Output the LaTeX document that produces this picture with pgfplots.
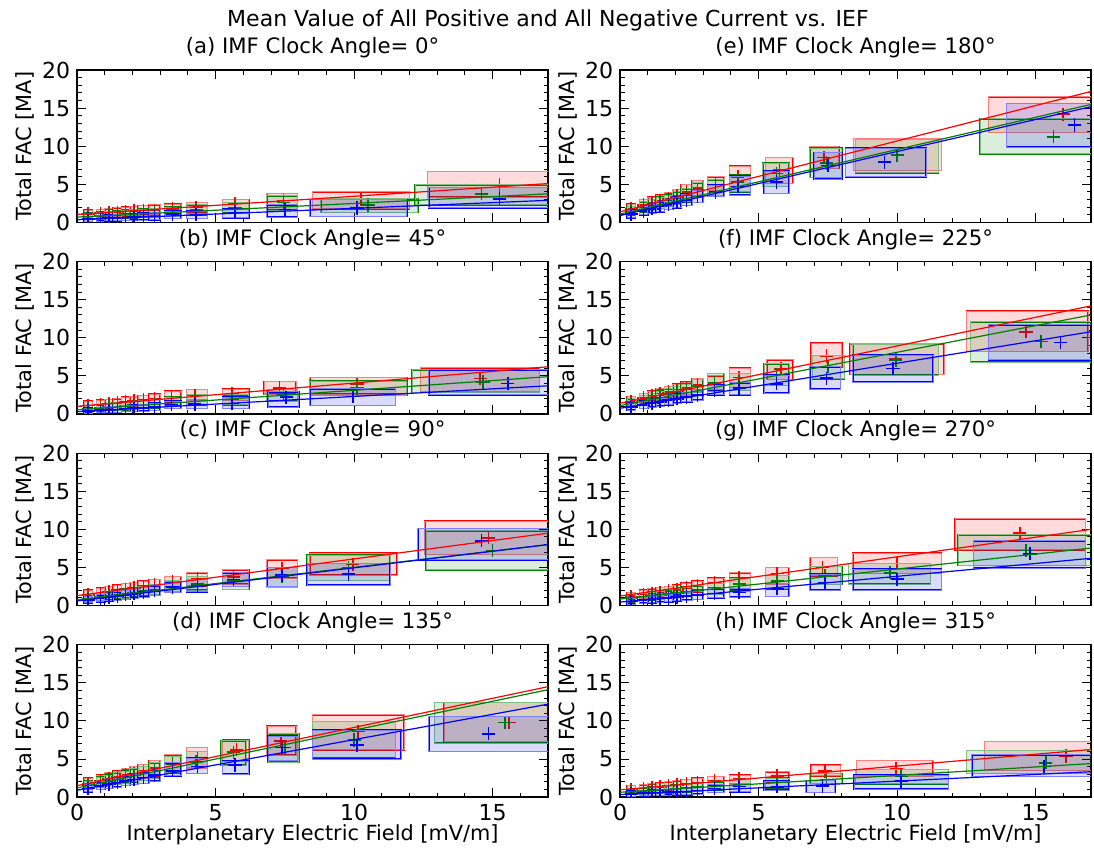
\documentclass[border=0pt]{standalone}
\usepackage{fontspec}
\setmainfont{DejaVu Sans}
\usepackage{pgfplots}
\usepackage{pgfplotstable}
\pgfplotsset{compat=1.18}
\usepgfplotslibrary{groupplots}
\definecolor{mred}{rgb}{1,0,0}
\definecolor{mgreen}{rgb}{0,0.5,0}
\definecolor{mblue}{rgb}{0,0,1}

% ---------- (a) 0 deg ----------
\pgfplotstableread{
x y xl xh yl yh
0.4 1.1 0.25 0.55 0.6 1.6
0.85 1.2 0.7 1.0 0.7 1.7
1.15 1.3 1.0 1.3 0.75 1.8
1.45 1.35 1.3 1.6 0.8 1.9
1.75 1.45 1.6 1.9 0.85 2.0
2.05 1.5 1.9 2.2 0.9 2.1
2.4 1.55 2.2 2.6 0.95 2.2
2.8 1.6 2.6 3.0 1.0 2.3
3.45 1.75 3.15 3.75 1.1 2.4
4.3 1.95 3.95 4.7 1.2 2.6
5.7 2.5 5.25 6.2 1.7 3.0
7.45 2.9 6.85 7.95 1.7 3.8
10.25 3.0 8.5 12.0 1.8 4.0
15.25 4.9 12.65 17.5 3.3 6.7
}\aR
\pgfplotstableread{
x y xl xh yl yh
0.4 0.8 0.25 0.55 0.4 1.2
0.85 0.9 0.7 1.0 0.45 1.35
1.15 1.0 1.0 1.3 0.5 1.45
1.45 1.05 1.3 1.6 0.55 1.5
1.75 1.1 1.6 1.9 0.6 1.6
2.05 1.15 1.9 2.2 0.6 1.65
2.4 1.2 2.2 2.6 0.65 1.75
2.8 1.3 2.6 3.0 0.7 1.85
3.45 1.45 3.15 3.75 0.8 2.0
4.3 1.7 3.95 4.7 1.0 2.3
5.7 1.95 5.25 6.2 1.2 2.6
7.45 2.6 6.85 7.95 1.6 3.5
10.5 2.3 8.8 12.3 1.3 3.1
14.6 3.75 12.2 17.5 2.3 4.95
}\aG
\pgfplotstableread{
x y xl xh yl yh
0.4 0.45 0.25 0.55 0.1 0.8
0.85 0.5 0.7 1.0 0.15 0.9
1.15 0.55 1.0 1.3 0.2 0.95
1.45 0.6 1.3 1.6 0.2 1.0
1.75 0.65 1.6 1.9 0.25 1.05
2.05 0.7 1.9 2.2 0.3 1.1
2.4 0.75 2.2 2.6 0.3 1.2
2.8 0.8 2.6 3.0 0.35 1.3
3.45 1.1 3.15 3.75 0.5 1.5
4.3 1.0 3.95 4.7 0.5 1.5
5.7 1.3 5.25 6.2 0.6 1.75
7.5 1.7 6.85 7.95 0.7 2.3
10.1 1.9 8.4 11.9 0.8 3.0
15.25 3.1 12.7 17.5 1.9 4.6
}\aB
% ---------- (b) 45 deg ----------
\pgfplotstableread{
x y xl xh yl yh
0.4 1.1 0.25 0.55 0.6 1.7
0.85 1.25 0.7 1.0 0.7 1.8
1.15 1.35 1.0 1.3 0.8 1.9
1.45 1.5 1.3 1.6 0.9 2.0
1.75 1.6 1.6 1.9 1.0 2.2
2.05 1.7 1.9 2.2 1.05 2.3
2.4 1.85 2.2 2.6 1.15 2.45
2.8 2.0 2.6 3.0 1.3 2.6
3.4 2.3 3.15 3.75 1.6 3.0
4.25 2.45 3.95 4.7 1.75 3.2
5.6 2.65 5.25 6.2 1.75 3.25
7.3 3.4 6.75 7.9 2.6 4.25
10.1 3.9 8.4 11.9 2.6 4.8
14.55 4.65 12.4 16.7 2.9 6.05
}\bR
\pgfplotstableread{
x y xl xh yl yh
0.4 0.7 0.25 0.55 0.35 1.1
0.85 0.8 0.7 1.0 0.4 1.2
1.15 0.9 1.0 1.3 0.45 1.3
1.45 1.0 1.3 1.6 0.5 1.45
1.75 1.05 1.6 1.9 0.55 1.55
2.05 1.15 1.9 2.2 0.6 1.65
2.4 1.25 2.2 2.6 0.7 1.75
2.8 1.35 2.6 3.0 0.8 1.9
3.4 1.65 3.15 3.75 1.05 2.2
4.25 1.9 3.95 4.7 1.2 2.5
5.6 1.9 5.25 6.2 1.2 2.5
7.45 2.6 6.85 7.95 1.7 3.2
10.1 3.4 8.4 11.9 2.4 4.3
14.65 4.2 12.1 16.7 2.8 5.8
}\bG
\pgfplotstableread{
x y xl xh yl yh
0.4 0.4 0.25 0.55 0.1 0.75
0.85 0.5 0.7 1.0 0.15 0.85
1.15 0.55 1.0 1.3 0.2 0.95
1.45 0.6 1.3 1.6 0.2 1.0
1.75 0.7 1.6 1.9 0.3 1.1
2.05 0.75 1.9 2.2 0.3 1.15
2.4 0.8 2.2 2.6 0.35 1.25
2.8 0.95 2.6 3.0 0.45 1.4
3.4 1.25 3.15 3.75 0.7 1.7
4.25 1.3 3.95 4.7 0.7 1.9
5.6 1.35 5.25 6.2 0.7 2.2
7.55 2.2 6.9 8.0 0.9 2.9
9.95 2.3 8.4 11.5 1.1 3.3
15.55 4.0 12.7 17.5 2.5 5.8
}\bB
% ---------- (c) 90 deg ----------
\pgfplotstableread{
x y xl xh yl yh
0.4 1.4 0.25 0.55 0.8 2.0
0.85 1.6 0.7 1.0 1.0 2.3
1.15 1.8 1.0 1.3 1.15 2.5
1.45 2.0 1.3 1.6 1.3 2.7
1.75 2.15 1.6 1.9 1.45 2.9
2.05 2.3 1.9 2.2 1.6 3.0
2.4 2.5 2.2 2.6 1.75 3.2
2.8 2.7 2.6 3.0 1.9 3.4
3.45 3.2 3.15 3.75 2.4 3.8
4.35 3.5 3.95 4.7 2.6 4.3
5.65 3.75 5.25 6.2 2.8 4.7
7.4 4.9 6.85 7.95 3.6 6.0
9.95 5.4 8.4 11.55 4.0 6.9
14.85 8.9 12.55 17.5 6.7 11.1
}\cR
\pgfplotstableread{
x y xl xh yl yh
0.4 0.9 0.25 0.55 0.5 1.4
0.85 1.1 0.7 1.0 0.6 1.6
1.15 1.25 1.0 1.3 0.7 1.8
1.45 1.4 1.3 1.6 0.85 2.0
1.75 1.55 1.6 1.9 0.95 2.15
2.05 1.7 1.9 2.2 1.1 2.3
2.4 1.9 2.2 2.6 1.25 2.55
2.8 2.1 2.6 3.0 1.4 2.75
3.45 2.5 3.15 3.75 1.8 3.3
4.35 2.8 3.95 4.7 2.0 3.8
5.65 3.25 5.25 6.2 2.1 4.3
7.4 3.8 6.85 7.95 2.4 5.0
9.8 5.0 8.3 11.3 3.3 6.6
15.0 7.2 12.6 17.5 4.7 9.8
}\cG
\pgfplotstableread{
x y xl xh yl yh
0.4 0.75 0.25 0.55 0.35 1.2
0.85 0.95 0.7 1.0 0.5 1.4
1.15 1.1 1.0 1.3 0.6 1.6
1.45 1.25 1.3 1.6 0.7 1.8
1.75 1.4 1.6 1.9 0.8 1.95
2.05 1.55 1.9 2.2 0.95 2.1
2.4 1.75 2.2 2.6 1.1 2.35
2.8 1.95 2.6 3.0 1.3 2.6
3.45 2.4 3.15 3.75 1.7 3.1
4.35 2.6 3.95 4.7 1.8 3.4
5.65 3.4 5.25 6.2 2.5 4.3
7.4 4.0 6.85 7.95 2.5 5.0
9.8 4.1 8.3 11.3 2.7 5.5
14.6 8.5 12.3 17.5 6.0 10.1
}\cB
% ---------- (d) 135 deg ----------
\pgfplotstableread{
x y xl xh yl yh
0.4 1.8 0.25 0.55 1.2 2.5
0.85 2.2 0.7 1.0 1.5 2.9
1.15 2.4 1.0 1.3 1.7 3.2
1.45 2.65 1.3 1.6 1.9 3.4
1.75 2.9 1.6 1.9 2.1 3.7
2.05 3.1 1.9 2.2 2.3 4.0
2.4 3.4 2.2 2.6 2.5 4.3
2.8 3.8 2.6 3.0 2.8 4.8
3.45 4.5 3.15 3.75 3.4 5.6
4.35 5.2 3.95 4.7 3.8 6.5
5.75 6.2 5.25 6.2 4.7 7.5
7.35 7.4 6.85 7.9 5.5 9.3
10.15 8.6 8.5 11.8 6.2 10.8
15.6 9.8 13.25 17.5 7.3 12.4
}\dR
\pgfplotstableread{
x y xl xh yl yh
0.4 1.5 0.25 0.55 1.0 2.1
0.85 1.9 0.7 1.0 1.3 2.6
1.15 2.15 1.0 1.3 1.5 2.9
1.45 2.4 1.3 1.6 1.7 3.2
1.75 2.6 1.6 1.9 1.85 3.4
2.05 2.85 1.9 2.2 2.0 3.7
2.4 3.1 2.2 2.6 2.2 4.0
2.8 3.5 2.6 3.0 2.5 4.5
3.45 4.3 3.15 3.75 3.2 5.4
4.3 4.6 3.95 4.7 3.9 6.0
5.65 5.9 5.2 6.1 4.2 7.4
7.5 6.5 6.9 8.0 4.6 8.3
10.0 7.5 8.5 11.5 5.1 9.9
15.45 9.8 12.9 17.5 7.1 12.4
}\dG
\pgfplotstableread{
x y xl xh yl yh
0.4 1.1 0.25 0.55 0.7 1.6
0.85 1.45 0.7 1.0 1.0 2.0
1.15 1.7 1.0 1.3 1.15 2.3
1.45 1.9 1.3 1.6 1.3 2.5
1.75 2.1 1.6 1.9 1.5 2.8
2.05 2.3 1.9 2.2 1.65 3.0
2.4 2.55 2.2 2.6 1.8 3.3
2.8 2.9 2.6 3.0 2.1 3.6
3.45 3.45 3.15 3.75 2.8 4.5
4.35 4.0 3.95 4.7 3.1 5.1
5.7 4.2 5.25 6.2 3.0 4.7
7.4 6.5 6.9 7.95 4.8 8.0
10.1 6.8 8.5 11.7 5.0 8.8
14.85 8.3 12.7 17.5 6.0 10.6
}\dB
% ---------- (e) 180 deg ----------
\pgfplotstableread{
x y xl xh yl yh
0.4 1.8 0.25 0.55 1.2 2.4
0.85 2.3 0.7 1.0 1.6 3.0
1.15 2.6 1.0 1.3 1.9 3.3
1.45 2.9 1.3 1.6 2.1 3.6
1.75 3.1 1.6 1.9 2.3 3.9
2.05 3.5 1.9 2.2 2.6 4.3
2.4 4.0 2.2 2.6 3.0 5.0
2.8 4.5 2.6 3.0 3.5 5.5
3.45 5.0 3.15 3.75 4.2 6.0
4.25 6.0 3.95 4.7 4.7 7.4
5.75 6.95 5.25 6.25 5.1 8.5
7.35 8.5 6.85 7.9 7.1 9.95
10.0 8.9 8.43 11.6 6.8 11.0
16.0 14.2 13.3 17.5 11.8 16.5
}\eR
\pgfplotstableread{
x y xl xh yl yh
0.4 1.5 0.25 0.55 1.0 2.1
0.85 2.0 0.7 1.0 1.4 2.7
1.15 2.3 1.0 1.3 1.6 3.0
1.45 2.6 1.3 1.6 1.85 3.3
1.75 2.9 1.6 1.9 2.1 3.6
2.05 3.2 1.9 2.2 2.4 4.0
2.4 3.6 2.2 2.6 2.7 4.4
2.8 4.3 2.6 3.0 3.3 5.2
3.45 5.0 3.15 3.75 3.5 5.6
4.25 5.3 3.95 4.7 4.0 6.2
5.65 6.4 5.15 6.1 4.7 7.8
7.45 7.8 6.85 8.0 5.9 9.75
10.0 8.85 8.5 11.5 6.5 10.9
15.65 11.25 13.0 17.5 9.0 13.6
}\eG
\pgfplotstableread{
x y xl xh yl yh
0.4 1.1 0.25 0.55 0.6 1.6
0.85 1.5 0.7 1.0 1.0 2.1
1.15 1.8 1.0 1.3 1.2 2.4
1.45 2.1 1.3 1.6 1.4 2.7
1.75 2.4 1.6 1.9 1.7 3.0
2.05 2.6 1.9 2.2 1.9 3.3
2.4 2.9 2.2 2.6 2.2 3.7
2.8 3.4 2.6 3.0 2.6 4.2
3.45 4.0 3.15 3.75 3.4 4.9
4.25 4.7 3.95 4.7 3.6 6.1
5.65 5.3 5.2 6.1 3.8 6.75
7.5 7.45 7.0 8.0 5.7 9.2
9.55 7.9 8.13 11.05 6.0 9.75
16.4 12.8 13.95 17.5 9.9 15.6
}\eB
% ---------- (f) 225 deg ----------
\pgfplotstableread{
x y xl xh yl yh
0.4 1.6 0.25 0.55 1.1 2.3
0.85 2.1 0.7 1.0 1.5 2.7
1.15 2.4 1.0 1.3 1.7 3.0
1.45 2.7 1.3 1.6 1.9 3.3
1.75 2.9 1.6 1.9 2.1 3.6
2.05 3.2 1.9 2.2 2.3 3.9
2.4 3.4 2.2 2.6 2.5 4.2
2.8 3.8 2.6 3.0 2.9 4.6
3.4 4.1 3.15 3.75 3.2 5.0
4.3 4.8 3.95 4.7 3.5 6.0
5.8 5.9 5.3 6.25 4.5 7.1
7.45 7.6 6.9 8.0 6.2 9.3
9.95 7.3 8.3 11.7 5.2 9.2
14.65 10.8 12.5 16.9 8.2 13.5
}\fR
\pgfplotstableread{
x y xl xh yl yh
0.4 1.4 0.25 0.55 0.9 2.0
0.85 1.8 0.7 1.0 1.3 2.4
1.15 2.1 1.0 1.3 1.5 2.7
1.45 2.4 1.3 1.6 1.7 3.0
1.75 2.6 1.6 1.9 1.9 3.3
2.05 2.9 1.9 2.2 2.1 3.6
2.4 3.2 2.2 2.6 2.4 3.9
2.8 3.7 2.6 3.0 2.8 4.5
3.4 4.1 3.15 3.75 3.0 5.3
4.3 4.1 3.95 4.7 3.1 5.3
5.65 5.2 5.2 6.1 3.75 6.6
7.5 6.2 6.95 8.1 4.6 7.7
9.95 7.1 8.4 11.5 5.1 9.1
15.2 9.5 12.65 17.5 6.8 12.1
}\fG
\pgfplotstableread{
x y xl xh yl yh
0.4 0.9 0.25 0.55 0.5 1.4
0.85 1.15 0.7 1.0 0.7 1.7
1.15 1.4 1.0 1.3 0.9 1.9
1.45 1.6 1.3 1.6 1.05 2.1
1.75 1.8 1.6 1.9 1.2 2.4
2.05 2.0 1.9 2.2 1.4 2.6
2.4 2.2 2.2 2.6 1.6 2.8
2.8 2.5 2.6 3.0 1.8 3.2
3.4 3.1 3.15 3.75 2.5 3.8
4.3 3.4 3.95 4.7 2.5 4.1
5.65 3.95 5.2 6.1 2.75 5.1
7.45 4.7 6.85 7.95 3.25 6.2
9.85 5.95 8.4 11.3 4.2 7.75
15.9 9.4 13.3 17.5 7.1 11.7
}\fB
% ---------- (g) 270 deg ----------
\pgfplotstableread{
x y xl xh yl yh
0.4 1.2 0.25 0.55 0.7 1.7
0.85 1.45 0.7 1.0 0.9 2.0
1.15 1.6 1.0 1.3 1.0 2.2
1.45 1.75 1.3 1.6 1.15 2.35
1.75 1.9 1.6 1.9 1.3 2.5
2.05 2.05 1.9 2.2 1.4 2.7
2.4 2.3 2.2 2.6 1.6 2.95
2.8 2.6 2.6 3.0 1.8 3.2
3.4 3.0 3.15 3.75 2.2 3.6
4.3 3.7 3.95 4.7 2.2 4.3
5.67 4.2 5.25 6.1 2.8 5.0
7.3 5.0 6.85 7.85 3.9 6.3
10.0 5.5 8.4 11.6 4.2 6.9
14.43 9.5 12.1 16.8 7.3 11.4
}\gR
\pgfplotstableread{
x y xl xh yl yh
0.4 0.95 0.25 0.55 0.5 1.4
0.85 1.1 0.7 1.0 0.65 1.6
1.15 1.25 1.0 1.3 0.75 1.75
1.45 1.4 1.3 1.6 0.85 1.9
1.75 1.5 1.6 1.9 0.95 2.05
2.05 1.65 1.9 2.2 1.05 2.2
2.4 1.8 2.2 2.6 1.2 2.4
2.8 2.0 2.6 3.0 1.35 2.6
3.4 2.3 3.15 3.75 1.5 2.9
4.3 2.8 3.95 4.7 1.9 3.6
5.67 3.2 5.25 6.1 2.2 3.95
7.4 3.9 6.85 8.0 2.75 5.1
9.75 4.3 8.24 11.2 2.8 5.5
14.65 7.2 12.2 17.5 5.25 9.3
}\gG
\pgfplotstableread{
x y xl xh yl yh
0.4 0.55 0.25 0.55 0.2 0.9
0.85 0.7 0.7 1.0 0.3 1.1
1.15 0.8 1.0 1.3 0.35 1.2
1.45 0.9 1.3 1.6 0.45 1.35
1.75 1.0 1.6 1.9 0.5 1.45
2.05 1.1 1.9 2.2 0.6 1.55
2.4 1.25 2.2 2.6 0.7 1.7
2.8 1.35 2.6 3.0 0.8 1.9
3.4 1.6 3.15 3.75 1.0 2.2
4.3 1.7 3.95 4.7 1.1 2.2
5.67 2.2 5.25 6.1 1.2 2.9
7.4 3.0 6.85 7.95 2.0 4.1
10.0 3.45 8.4 11.6 2.0 4.8
14.8 6.8 12.76 16.8 4.9 8.5
}\gB
% ---------- (h) 315 deg ----------
\pgfplotstableread{
x y xl xh yl yh
0.4 1.0 0.25 0.55 0.6 1.5
0.85 1.15 0.7 1.0 0.7 1.6
1.15 1.25 1.0 1.3 0.8 1.75
1.45 1.35 1.3 1.6 0.85 1.85
1.75 1.45 1.6 1.9 0.95 2.0
2.05 1.6 1.9 2.2 1.05 2.15
2.4 1.75 2.2 2.6 1.15 2.3
2.8 1.9 2.6 3.0 1.3 2.5
3.4 2.1 3.15 3.75 1.5 2.7
4.3 2.4 3.95 4.7 1.7 2.9
5.67 2.8 5.25 6.1 2.0 3.3
7.4 3.4 6.9 7.95 2.8 4.2
9.97 3.7 8.53 11.3 2.7 4.8
16.1 5.4 13.15 17.5 3.5 7.3
}\hR
\pgfplotstableread{
x y xl xh yl yh
0.4 0.7 0.25 0.55 0.35 1.1
0.85 0.8 0.7 1.0 0.4 1.2
1.15 0.85 1.0 1.3 0.45 1.3
1.45 0.95 1.3 1.6 0.5 1.4
1.75 1.0 1.6 1.9 0.55 1.45
2.05 1.1 1.9 2.2 0.6 1.55
2.4 1.2 2.2 2.6 0.7 1.65
2.8 1.3 2.6 3.0 0.8 1.8
3.4 1.5 3.15 3.75 0.95 2.0
4.3 1.75 3.95 4.7 1.1 2.3
5.67 1.9 5.25 6.1 1.2 2.5
7.45 2.3 6.85 8.0 1.8 3.1
10.15 2.8 8.5 11.85 1.75 3.6
15.37 4.5 12.5 17.5 3.1 6.1
}\hG
\pgfplotstableread{
x y xl xh yl yh
0.4 0.4 0.25 0.55 0.1 0.8
0.85 0.5 0.7 1.0 0.15 0.85
1.15 0.55 1.0 1.3 0.2 0.9
1.45 0.6 1.3 1.6 0.2 0.95
1.75 0.65 1.6 1.9 0.25 1.0
2.05 0.7 1.9 2.2 0.3 1.1
2.4 0.75 2.2 2.6 0.3 1.15
2.8 0.85 2.6 3.0 0.4 1.25
3.4 1.1 3.15 3.75 0.6 1.6
4.3 1.4 3.95 4.7 0.7 1.8
5.67 1.35 5.2 6.1 0.9 2.1
7.3 1.45 6.7 7.75 0.6 2.2
10.15 2.1 8.45 11.85 1.05 2.9
15.3 4.0 12.7 17.5 2.7 5.55
}\hB

\pgfplotsset{
  fbox/.style={
    scatter, only marks, mark=+, mark size=3.3pt, color=#1, line width=0.8pt,
    visualization depends on={\thisrow{xl}-\thisrow{x} \as \dxl},
    visualization depends on={\thisrow{xh}-\thisrow{x} \as \dxh},
    visualization depends on={\thisrow{yl}-\thisrow{y} \as \dyl},
    visualization depends on={\thisrow{yh}-\thisrow{y} \as \dyh},
    scatter/@pre marker code/.code={%
      \fill[#1, fill opacity=0.14] (axis direction cs:\dxl,\dyl) rectangle (axis direction cs:\dxh,\dyh);
      \draw[#1!50, line width=0.45pt] (axis direction cs:\dxl,\dyl) rectangle (axis direction cs:\dxh,\dyh);
      \scope},
    scatter/@post marker code/.code={\endscope},
  },
  fline/.style={#1, line width=0.6pt, no markers},
}
\newcommand{\fsz}{\fontsize{10.6}{12}\selectfont}
\newcommand{\tsz}{\fontsize{11}{12}\selectfont}
\newcommand{\lsz}{\fontsize{10.4}{12}\selectfont}

\begin{document}
\begin{tikzpicture}
\begin{groupplot}[
  group style={group size=2 by 4, horizontal sep=36pt, vertical sep=19.6pt,
    xticklabels at=edge bottom, group name=G},
  width=235pt, height=76pt, scale only axis,
  xmin=0, xmax=17, ymin=0, ymax=20,
  xtick={0,5,10,15}, ytick={0,5,10,15,20},
  minor xtick={1,2,3,4,6,7,8,9,11,12,13,14,16},
  minor ytick={1,2,3,4,6,7,8,9,11,12,13,14,16,17,18,19},
  tick align=inside, tick pos=both,
  major tick length=4.5pt, minor tick length=2.2pt,
  every tick/.style={black, line width=0.5pt},
  axis line style={line width=0.7pt},
  ylabel={Total FAC [MA]},
  tick label style={font=\tsz},
  label style={font=\lsz},
  xlabel style={yshift=5pt},
  ylabel style={yshift=-3pt},
  title style={font=\fsz, yshift=-3.5pt},
  /pgf/number format/assume math mode=true,
  clip marker paths=true,
]
\nextgroupplot[title={(a) IMF Clock Angle= 0°}]
\addplot[fbox=mred] table {\aR};
\addplot[fbox=mgreen] table {\aG};
\addplot[fbox=mblue] table {\aB};
\addplot[fline=mred] coordinates {(0,1.05) (17,5.1)};
\addplot[fline=mgreen] coordinates {(0,0.7) (17,3.75)};
\addplot[fline=mblue] coordinates {(0,0.35) (17,2.9)};

\nextgroupplot[title={(e) IMF Clock Angle= 180°}]
\addplot[fbox=mred] table {\eR};
\addplot[fbox=mgreen] table {\eG};
\addplot[fbox=mblue] table {\eB};
\addplot[fline=mred] coordinates {(0,1.4) (17,17.2)};
\addplot[fline=mgreen] coordinates {(0,1.1) (17,15.5)};
\addplot[fline=mblue] coordinates {(0,0.9) (17,15.2)};

\nextgroupplot[title={(b) IMF Clock Angle= 45°}]
\addplot[fbox=mred] table {\bR};
\addplot[fbox=mgreen] table {\bG};
\addplot[fbox=mblue] table {\bB};
\addplot[fline=mred] coordinates {(0,1.0) (17,6.2)};
\addplot[fline=mgreen] coordinates {(0,0.55) (17,4.9)};
\addplot[fline=mblue] coordinates {(0,0.3) (17,3.7)};

\nextgroupplot[title={(f) IMF Clock Angle= 225°}]
\addplot[fbox=mred] table {\fR};
\addplot[fbox=mgreen] table {\fG};
\addplot[fbox=mblue] table {\fB};
\addplot[fline=mred] coordinates {(0,1.4) (17,14.2)};
\addplot[fline=mgreen] coordinates {(0,1.1) (17,13.0)};
\addplot[fline=mblue] coordinates {(0,0.75) (17,10.8)};

\nextgroupplot[title={(c) IMF Clock Angle= 90°}]
\addplot[fbox=mred] table {\cR};
\addplot[fbox=mgreen] table {\cG};
\addplot[fbox=mblue] table {\cB};
\addplot[fline=mred] coordinates {(0,1.3) (17,9.5)};
\addplot[fline=mgreen] coordinates {(0,0.75) (17,8.0)};
\addplot[fline=mblue] coordinates {(0,0.6) (17,8.0)};

\nextgroupplot[title={(g) IMF Clock Angle= 270°}]
\addplot[fbox=mred] table {\gR};
\addplot[fbox=mgreen] table {\gG};
\addplot[fbox=mblue] table {\gB};
\addplot[fline=mred] coordinates {(0,1.25) (17,10.0)};
\addplot[fline=mgreen] coordinates {(0,0.85) (17,7.55)};
\addplot[fline=mblue] coordinates {(0,0.45) (17,6.2)};

\nextgroupplot[title={(d) IMF Clock Angle= 135°}, xlabel={Interplanetary Electric Field [mV/m]}]
\addplot[fbox=mred] table {\dR};
\addplot[fbox=mgreen] table {\dG};
\addplot[fbox=mblue] table {\dB};
\addplot[fline=mred] coordinates {(0,1.5) (17,14.5)};
\addplot[fline=mgreen] coordinates {(0,1.2) (17,14.1)};
\addplot[fline=mblue] coordinates {(0,0.9) (17,12.2)};

\nextgroupplot[title={(h) IMF Clock Angle= 315°}, xlabel={Interplanetary Electric Field [mV/m]}]
\addplot[fbox=mred] table {\hR};
\addplot[fbox=mgreen] table {\hG};
\addplot[fbox=mblue] table {\hB};
\addplot[fline=mred] coordinates {(0,0.95) (17,6.25)};
\addplot[fline=mgreen] coordinates {(0,0.63) (17,4.4)};
\addplot[fline=mblue] coordinates {(0,0.33) (17,3.33)};
\end{groupplot}
\node[font=\tsz] at ([yshift=25pt]G c1r1.north east) {Mean Value of All Positive and All Negative Current vs. IEF};
\pgfresetboundingbox
\path[use as bounding box] ([xshift=-38.5pt,yshift=35pt]G c1r1.north west) rectangle ([xshift=1.5pt,yshift=-26pt]G c2r4.south east);
\end{tikzpicture}
\end{document}
